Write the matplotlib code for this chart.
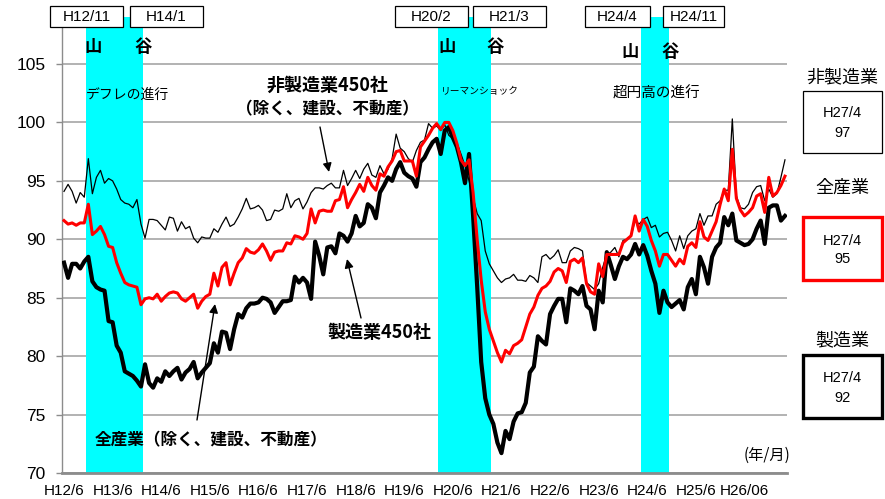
import matplotlib
matplotlib.use('Agg')
import matplotlib.pyplot as plt
from matplotlib.patches import Rectangle, FancyArrowPatch
import numpy as np

plt.rcParams['font.family'] = ['Noto Sans CJK JP', 'DejaVu Sans']

# ---------------- data (monthly, H12/6 .. H27/4) ----------------
non_manufacturing = [
    94.1, 94.7, 94.1, 93.1, 94.0, 93.6, 96.9, 93.9, 95.3, 95.9, 94.8, 95.2,
    95.0, 94.3, 93.4, 93.1, 93.0, 92.7, 93.4, 91.3, 90.1, 91.7, 91.7, 91.6,
    91.2, 90.8, 91.9, 91.8, 90.7, 91.5, 90.9, 91.1, 90.1, 89.7, 90.2, 90.1,
    90.1, 90.9, 90.6, 91.3, 91.9, 91.1, 91.3, 91.9, 92.6, 93.5, 92.6, 92.7,
    92.9, 92.5, 91.6, 91.7, 92.5, 92.4, 92.6, 93.9, 92.7, 93.3, 93.5, 92.6,
    93.2, 94.0, 94.4, 94.4, 94.3, 94.6, 94.8, 94.4, 94.4, 95.9, 94.6, 95.2,
    95.9, 95.2, 96.0, 96.5, 95.5, 95.3, 96.3, 95.6, 96.0, 96.9, 99.0, 97.8,
    97.5, 96.9, 96.6, 97.6, 98.3, 98.5, 99.9, 99.5, 99.7, 99.3, 99.8, 98.9,
    98.6, 98.2, 97.3, 96.3, 95.0, 93.6, 92.2, 91.6, 89.0, 87.9, 87.3, 86.7,
    86.3, 86.6, 86.7, 87.0, 86.5, 86.5, 86.4, 86.9, 86.7, 86.3, 88.5, 88.7,
    88.3, 88.6, 89.1, 88.0, 88.0, 89.0, 89.3, 89.2, 89.0, 86.3, 86.0, 85.7,
    86.2, 87.6, 88.7, 88.9, 89.3, 88.5, 89.9, 90.0, 90.3, 91.6, 91.3, 91.7,
    91.9, 91.0, 91.2, 90.2, 90.5, 90.6, 89.9, 89.0, 90.3, 89.2, 90.3, 90.7,
    90.9, 92.2, 91.2, 92.0, 92.0, 93.0, 93.3, 94.2, 94.2, 100.3, 93.7, 92.7,
    92.6, 93.0, 94.0, 94.5, 94.6, 93.3, 94.3, 93.6, 93.9, 95.3, 96.8,
]
all_industries = [
    91.6, 91.3, 91.4, 91.2, 91.4, 91.4, 93.0, 90.4, 90.7, 91.1, 90.4, 89.4,
    89.3, 88.0, 87.1, 86.3, 86.1, 86.0, 85.9, 84.4, 84.9, 85.0, 84.9, 85.3,
    84.7, 85.1, 85.4, 85.5, 85.4, 84.9, 84.7, 85.0, 85.3, 84.1, 84.7, 85.1,
    85.3, 87.1, 86.0, 87.6, 88.0, 86.1, 87.1, 88.0, 88.4, 89.2, 88.9, 88.8,
    89.1, 89.6, 89.0, 88.2, 88.9, 89.0, 89.0, 89.7, 89.6, 90.3, 90.2, 90.0,
    90.5, 92.6, 91.4, 92.4, 92.5, 92.4, 92.4, 93.3, 93.4, 94.5, 92.7, 93.4,
    94.0, 94.7, 94.1, 95.3, 94.6, 94.2, 95.6, 95.4, 96.2, 96.7, 97.5, 97.6,
    96.7, 96.7, 96.7, 95.4, 97.9, 98.4, 98.9, 99.5, 99.9, 99.4, 100.0, 100.0,
    99.3, 98.2, 96.8, 96.3, 96.8, 94.0, 90.0, 86.5, 83.8, 82.3, 81.3, 80.3,
    79.5, 80.5, 80.2, 80.9, 81.1, 81.4, 82.5, 83.6, 84.2, 85.2, 85.8, 86.0,
    86.4, 87.2, 87.5, 87.3, 86.3, 88.1, 88.3, 88.0, 88.4, 86.2, 85.5, 85.3,
    87.9, 86.8, 88.7, 88.7, 88.7, 88.7, 89.7, 90.0, 90.3, 92.0, 90.7, 91.7,
    91.1, 89.9, 89.0, 87.7, 88.7, 88.7, 88.2, 87.7, 88.3, 87.9, 89.4, 89.7,
    89.3, 91.5, 90.2, 89.9, 90.7, 91.5, 93.0, 94.3, 93.3, 97.7, 93.5, 92.5,
    92.0, 92.3, 92.7, 93.7, 93.9, 92.3, 95.3, 93.7, 94.0, 94.6, 95.4,
]
manufacturing = [
    88.0, 86.7, 87.9, 87.9, 87.5, 88.1, 88.5, 86.4, 85.9, 85.7, 85.6, 83.0,
    82.9, 80.9, 80.3, 78.7, 78.5, 78.3, 77.9, 77.4, 79.3, 77.7, 77.3, 78.1,
    77.8, 78.7, 78.3, 78.7, 79.0, 78.0, 78.6, 78.9, 79.5, 78.1, 78.6, 79.0,
    79.4, 81.1, 80.3, 82.1, 82.0, 80.6, 82.3, 83.6, 83.3, 84.1, 84.5, 84.5,
    84.6, 85.0, 84.9, 84.6, 83.7, 84.2, 84.7, 84.7, 84.8, 86.8, 86.3, 86.7,
    86.3, 84.9, 89.8, 88.6, 87.0, 89.3, 89.4, 88.8, 90.5, 90.3, 89.8, 90.5,
    92.0, 91.1, 91.4, 93.0, 92.7, 91.8, 94.0, 94.6, 95.3, 95.0, 96.0, 96.6,
    95.7, 95.4, 95.2, 94.5, 96.6, 97.0, 97.7, 98.3, 98.6, 97.3, 99.3, 99.6,
    98.7, 97.9, 96.6, 94.8, 97.3, 92.0, 86.0, 79.5, 76.4, 75.0, 74.2, 72.6,
    71.7, 73.6, 72.9, 74.4, 75.1, 75.2, 76.0, 78.6, 79.1, 81.7, 81.3, 81.0,
    83.6, 84.3, 84.9, 84.9, 82.9, 85.8, 85.6, 85.3, 86.0, 84.3, 84.0, 82.3,
    85.6, 84.6, 88.9, 87.8, 86.6, 87.7, 88.5, 88.3, 88.7, 89.6, 88.7, 89.5,
    88.6, 87.3, 86.2, 83.7, 85.6, 84.6, 84.2, 84.5, 84.8, 84.0, 85.9, 86.6,
    85.3, 88.5, 87.6, 86.2, 88.5, 89.3, 89.7, 91.9, 91.2, 92.2, 89.9, 89.7,
    89.5, 89.6, 90.0, 90.9, 91.6, 89.6, 92.7, 92.9, 92.9, 91.6, 92.0,
]
x_tick_labels = ['H12/6', 'H13/6', 'H14/6', 'H15/6', 'H16/6', 'H17/6', 'H18/6',
                 'H19/6', 'H20/6', 'H21/6', 'H22/6', 'H23/6', 'H24/6', 'H25/6',
                 'H26/06']
y_ticks = [70, 75, 80, 85, 90, 95, 100, 105]
band_start_month = [5, 92, 142]      # H12/11, H20/2, H24/4
band_end_month = [19, 105, 149]      # H14/1, H21/3, H24/11
band_start_labels = ['H12/11', 'H20/2', 'H24/4']
band_end_labels = ['H14/1', 'H21/3', 'H24/11']
latest_label = 'H27/4'
latest_values = {'非製造業': 97, '全産業': 95, '製造業': 92}

# ---------------- figure ----------------
W, H = 885, 499
fig = plt.figure(figsize=(W / 100, H / 100), dpi=100)


def fx(x):
    return x / W


def fy(y):
    return 1 - y / H


YTOP = 70 + (473 - 17) / (409 / 35)
ax = fig.add_axes([fx(62), fy(473), (787 - 62) / W, (473 - 17) / H])
ax.set_xlim(-0.5, len(manufacturing) - 0.5)
ax.set_ylim(70, YTOP)

months = np.arange(len(manufacturing))

for s, e in zip(band_start_month, band_end_month):
    ax.axvspan(s + 0.45, e + 0.45, color='#00FFFF', zorder=1, lw=0)

ax.plot(months, manufacturing, color='black', lw=3.0, zorder=3,
        solid_joinstyle='round')
ax.plot(months, non_manufacturing, color='black', lw=0.9, zorder=4)
ax.plot(months, all_industries, color='#FF0000', lw=2.2, zorder=5,
        solid_joinstyle='round')

ax.set_yticks(y_ticks)
ax.set_yticklabels([str(v) for v in y_ticks], family=['Liberation Sans', 'DejaVu Sans'],
                   fontsize=12.5)
ax.yaxis.grid(True, color='#a6a6a6', lw=1.2, zorder=0)
ax.set_axisbelow(True)
ax.tick_params(axis='y', length=4, width=1, color='#8c8c8c', pad=8)

ax.set_xticks(months[::12])
ax.set_xticklabels(x_tick_labels, family=['Liberation Sans Narrow', 'Liberation Sans', 'DejaVu Sans'],
                   fontsize=11)
ax.tick_params(axis='x', length=0, pad=8)

for side in ['top', 'right']:
    ax.spines[side].set_visible(False)
ax.spines['bottom'].set_color('#8c8c8c')
ax.spines['bottom'].set_linewidth(2)
ax.spines['left'].set_color('#8c8c8c')
ax.spines['left'].set_linewidth(1)
ax.spines['left'].set_bounds(70, 70 + (473 - 28) / (409 / 35))

# ---------------- top boxes ----------------
box_px = [(50, 123), (130, 203), (395, 468), (473, 546), (585, 650), (663, 724)]
box_labels = [band_start_labels[0], band_end_labels[0], band_start_labels[1],
              band_end_labels[1], band_start_labels[2], band_end_labels[2]]
for (x0, x1), lab in zip(box_px, box_labels):
    fig.add_artist(Rectangle((fx(x0), fy(27)), (x1 - x0) / W, 21 / H,
                             transform=fig.transFigure, facecolor='white',
                             edgecolor='black', lw=0.9, zorder=10))
    fig.text(fx((x0 + x1) / 2), fy(17), lab, ha='center', va='center',
             fontsize=11, family=['Liberation Sans Narrow', 'Liberation Sans', 'DejaVu Sans'],
             zorder=11)

for x, y, t in [(93, 47, '山'), (143, 47, '谷'), (447, 47, '山'), (495, 47, '谷'),
                (630, 52, '山'), (670, 52, '谷')]:
    fig.text(fx(x), fy(y), t, ha='center', va='center', fontsize=12.5,
             weight='bold', zorder=11)

fig.text(fx(86), fy(95), 'デフレの進行', ha='left', va='center', fontsize=10, zorder=11)
fig.text(fx(441), fy(91), 'リーマンショック', ha='left', va='center', fontsize=7, zorder=11)
fig.text(fx(656), fy(93.5), '超円高の進行', ha='center', va='center', fontsize=10.5, zorder=11)

fig.text(fx(328), fy(85), '非製造業450社', ha='center', va='center', fontsize=13,
         weight='bold', zorder=11)
fig.text(fx(327), fy(109.5), '（除く、建設、不動産）', ha='center', va='center',
         fontsize=12, weight='bold', zorder=11)
fig.text(fx(379), fy(333), '製造業450社', ha='center', va='center', fontsize=13,
         weight='bold', zorder=11)
fig.text(fx(211), fy(440), '全産業（除く、建設、不動産）', ha='center', va='center',
         fontsize=12, weight='bold', zorder=11)
fig.text(fx(767), fy(455), '(年/月)', ha='center', va='center', fontsize=11, zorder=11)


def arrow(p0, p1):
    fig.add_artist(FancyArrowPatch((fx(p0[0]), fy(p0[1])), (fx(p1[0]), fy(p1[1])),
                                   transform=fig.transFigure, arrowstyle='-|>',
                                   mutation_scale=13, color='black', lw=1.0,
                                   shrinkA=0, shrinkB=0, zorder=12))


arrow((320, 127), (329, 172))
arrow((361, 318), (347, 259))
arrow((197, 420), (215, 304))

# ---------------- right legend boxes ----------------
right = [
    ('非製造業', 77, (91, 153), 'black', 0.9, 113, 133),
    ('全産業', 187.5, (217, 280), '#FF0000', 2.4, 241, 259),
    ('製造業', 340.5, (355, 418), 'black', 2.4, 378, 397.5),
]
for name, ty, (y0, y1), ec, lw, yl1, yl2 in right:
    fig.text(fx(842), fy(ty), name, ha='center', va='center', fontsize=13, zorder=11)
    fig.add_artist(Rectangle((fx(803), fy(y1)), 79 / W, (y1 - y0) / H,
                             transform=fig.transFigure, facecolor='white',
                             edgecolor=ec, lw=lw, zorder=10))
    fig.text(fx(842.5), fy(yl1), latest_label, ha='center', va='center', fontsize=10.5,
             family=['Liberation Sans Narrow', 'Liberation Sans', 'DejaVu Sans'], zorder=11)
    fig.text(fx(842.5), fy(yl2), str(latest_values[name]), ha='center', va='center',
             fontsize=10.5, family=['Liberation Sans Narrow', 'Liberation Sans', 'DejaVu Sans'],
             zorder=11)

fig.savefig('out.png', dpi=100)
